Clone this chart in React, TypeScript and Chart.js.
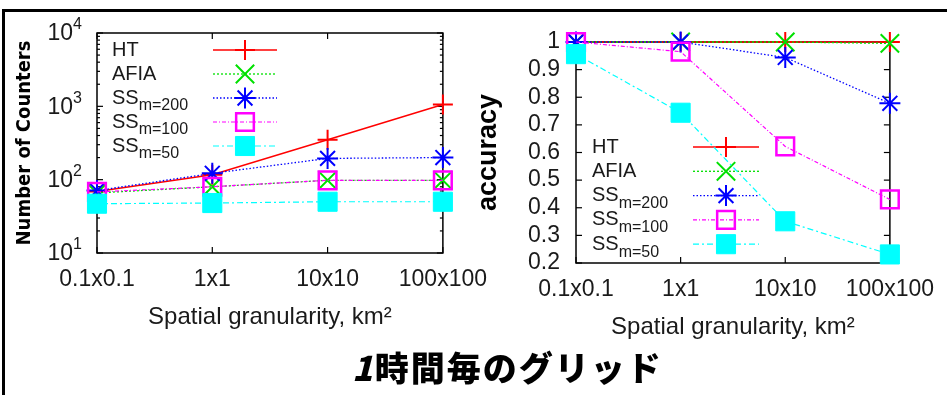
import React, { useEffect, useRef } from "react";
import { Chart, registerables } from "chart.js";
import { drawPoint } from "chart.js/helpers";

Chart.register(...registerables);

// ---------- data ----------
const granularity = ["0.1x0.1", "1x1", "10x10", "100x100"];
const seriesNames = ["HT", "AFIA", "SS", "SS", "SS"];
const seriesSubs = ["", "", "m=200", "m=100", "m=50"];

const countersHT = [69, 117, 350, 1060];
const countersAFIA = [66, 80, 98, 98];
const countersSS200 = [71, 122, 195, 200];
const countersSS100 = [68, 80, 98, 98];
const countersSS50 = [47, 48, 50, 50];

const accuracyHT = [1, 1, 1, 1];
const accuracyAFIA = [1, 1, 1, 0.995];
const accuracySS200 = [1, 1, 0.944, 0.778];
const accuracySS100 = [1, 0.965, 0.622, 0.43];
const accuracySS50 = [0.956, 0.744, 0.351, 0.231];

const countTicks = [10, 100, 1000, 10000];
const logBase = "10";
const accuracyTicks = [0.2, 0.3, 0.4, 0.5, 0.6, 0.7, 0.8, 0.9, 1];

const xTitle = "Spatial granularity, km\u00B2";
const leftYTitle = "Number of Counters";
const rightYTitle = "accuracy";

// ---------- styles ----------
const SANS = '"Liberation Sans", Arial, Helvetica, sans-serif';
const TEXT = "#1a1a1a";
const STYLES = [
  { color: "#ff0000", dash: [] as number[], width: 1.5, ps: "cross", r: 10, pbw: 2, bg: "rgba(0,0,0,0)" },
  { color: "#00e000", dash: [2, 2], width: 1.3, ps: "crossRot", r: 13, pbw: 2, bg: "rgba(0,0,0,0)" },
  { color: "#0000ff", dash: [1.5, 2], width: 1.3, ps: "star", r: 10.5, pbw: 2, bg: "rgba(0,0,0,0)" },
  { color: "#ff00ff", dash: [4, 2, 1, 2], width: 1.2, ps: "rect", r: 12.5, pbw: 2.5, bg: "rgba(0,0,0,0)" },
  { color: "#00ffff", dash: [6, 3, 2, 3], width: 1.2, ps: "rect", r: 13.5, pbw: 1, bg: "#00ffff" },
];

function makeDatasets(series: number[][]) {
  return series.map((vals, i) => {
    const s = STYLES[i];
    return {
      label: seriesNames[i],
      sub: seriesSubs[i],
      data: vals,
      borderColor: s.color,
      backgroundColor: s.bg,
      borderWidth: s.width,
      borderDash: s.dash,
      pointStyle: s.ps,
      pointRadius: s.r,
      pointHoverRadius: s.r,
      pointBorderWidth: s.pbw,
      pointBorderColor: s.color,
      pointBackgroundColor: s.bg,
      tension: 0,
      fill: false,
      clip: false,
      order: 5 - i,
    };
  });
}

// ---------- plugins ----------
const gnuFrame = {
  id: "gnuFrame",
  beforeDatasetsDraw(chart: any, _a: any, opts: any) {
    const { ctx, chartArea } = chart;
    const { left, right, top, bottom } = chartArea;
    const xs = chart.scales.x;
    const ys = chart.scales.y;
    ctx.save();
    ctx.strokeStyle = "#000";
    ctx.lineWidth = 1.5;
    ctx.strokeRect(left, top, right - left, bottom - top);
    ctx.lineWidth = 1.2;
    const line = (x0: number, y0: number, x1: number, y1: number) => {
      ctx.beginPath();
      ctx.moveTo(x0, y0);
      ctx.lineTo(x1, y1);
      ctx.stroke();
    };
    xs.ticks.forEach((_t: any, i: number) => {
      const px = xs.getPixelForTick(i);
      line(px, bottom, px, bottom - 6);
      line(px, top, px, top + 6);
    });
    ys.ticks.forEach((t: any) => {
      const py = ys.getPixelForValue(t.value);
      line(left, py, left + 6, py);
      line(right, py, right - 6, py);
    });
    (opts.minor || []).forEach((v: number) => {
      const py = ys.getPixelForValue(v);
      line(left, py, left + 3, py);
      line(right, py, right - 3, py);
    });
    ctx.restore();
  },
  afterDraw(chart: any, _a: any, opts: any) {
    if (!opts.expLabels) return;
    const { ctx, chartArea } = chart;
    const ys = chart.scales.y;
    const xr = chartArea.left - 15;
    ctx.save();
    ctx.fillStyle = TEXT;
    ctx.textAlign = "left";
    ctx.textBaseline = "middle";
    countTicks.forEach((v) => {
      const py = ys.getPixelForValue(v);
      const e = String(Math.round(Math.log10(v)));
      ctx.font = `16px ${SANS}`;
      const ew = ctx.measureText(e).width;
      ctx.font = `23px ${SANS}`;
      const bw = ctx.measureText(logBase).width;
      ctx.fillText(logBase, xr - ew - bw, py + 1);
      ctx.font = `16px ${SANS}`;
      ctx.fillText(e, xr - ew, py - 8);
    });
    ctx.restore();
  },
};

const subLegend = {
  id: "subLegend",
  beforeDatasetsDraw(chart: any, _a: any, opts: any) {
    const ctx = chart.ctx;
    chart.data.datasets.forEach((ds: any, i: number) => {
      const cy = opts.y + i * opts.step;
      ctx.save();
      ctx.fillStyle = TEXT;
      ctx.textAlign = "left";
      ctx.textBaseline = "middle";
      ctx.font = `20px ${SANS}`;
      ctx.fillText(ds.label, opts.x, cy);
      if (ds.sub) {
        const w = ctx.measureText(ds.label).width;
        ctx.font = `16px ${SANS}`;
        ctx.fillText(ds.sub, opts.x + w, cy + 8);
      }
      ctx.strokeStyle = ds.borderColor;
      ctx.lineWidth = ds.borderWidth;
      ctx.setLineDash(ds.borderDash || []);
      ctx.beginPath();
      ctx.moveTo(opts.x0, cy);
      ctx.lineTo(opts.x1, cy);
      ctx.stroke();
      ctx.setLineDash([]);
      ctx.fillStyle = ds.pointBackgroundColor;
      ctx.strokeStyle = ds.pointBorderColor;
      ctx.lineWidth = ds.pointBorderWidth;
      drawPoint(
        ctx,
        { pointStyle: ds.pointStyle, radius: ds.pointRadius, rotation: 0, borderWidth: ds.pointBorderWidth } as any,
        (opts.x0 + opts.x1) / 2,
        cy
      );
      ctx.restore();
    });
  },
};

const minorLog: number[] = [];
for (let e = 1; e <= 3; e++) for (let k = 2; k <= 9; k++) minorLog.push(k * Math.pow(10, e));

function xAxis(height: number, titlePad: number) {
  return {
    type: "category" as const,
    offset: false,
    grid: { display: false, drawTicks: false },
    border: { display: false },
    ticks: { font: { family: SANS, size: 23 }, color: TEXT, padding: 13, maxRotation: 0, autoSkip: false },
    title: {
      display: true,
      text: xTitle,
      font: { family: SANS, size: 24 },
      color: TEXT,
      padding: { top: 0, bottom: titlePad },
    },
    afterFit: (s: any) => {
      s.height = height;
    },
  };
}

export default function App() {
  const leftRef = useRef<HTMLCanvasElement>(null);
  const rightRef = useRef<HTMLCanvasElement>(null);

  useEffect(() => {
    const left = new Chart(leftRef.current as HTMLCanvasElement, {
      type: "line",
      data: {
        labels: granularity,
        datasets: makeDatasets([countersHT, countersAFIA, countersSS200, countersSS100, countersSS50]) as any,
      },
      options: {
        responsive: false,
        animation: false,
        devicePixelRatio: 1,
        events: [],
        layout: { padding: { top: 33, right: 57, left: 0, bottom: 0 } },
        plugins: {
          legend: { display: false },
          tooltip: { enabled: false },
          gnuFrame: { minor: minorLog, expLabels: true },
          subLegend: { x: 112, y: 50, step: 24, x0: 213, x1: 277 },
        } as any,
        scales: {
          x: xAxis(92, 13.6),
          y: {
            type: "logarithmic",
            min: 10,
            max: 10000,
            afterBuildTicks: (s: any) => {
              s.ticks = countTicks.map((v) => ({ value: v }));
            },
            ticks: { display: false, autoSkip: false },
            grid: { display: false, drawTicks: false },
            border: { display: false },
            title: {
              display: true,
              text: leftYTitle,
              font: { family: '"DejaVu Sans Condensed", "DejaVu Sans", sans-serif', size: 20, weight: "bold" },
              color: "#000",
              padding: { top: 13, bottom: 0 },
            },
            afterFit: (s: any) => {
              s.width = 97;
            },
          },
        } as any,
      },
      plugins: [gnuFrame, subLegend],
    });

    const right = new Chart(rightRef.current as HTMLCanvasElement, {
      type: "line",
      data: {
        labels: granularity,
        datasets: makeDatasets([accuracyHT, accuracyAFIA, accuracySS200, accuracySS100, accuracySS50]) as any,
      },
      options: {
        responsive: false,
        animation: false,
        devicePixelRatio: 1,
        events: [],
        layout: { padding: { top: 42, right: 50, left: 0, bottom: 0 } },
        plugins: {
          legend: { display: false },
          tooltip: { enabled: false },
          gnuFrame: { minor: [], expLabels: false },
          subLegend: { x: 122, y: 147, step: 24.3, x0: 223, x1: 289 },
        } as any,
        scales: {
          x: xAxis(82, 3.6),
          y: {
            type: "linear",
            min: 0.2,
            max: 1,
            afterBuildTicks: (s: any) => {
              s.ticks = accuracyTicks.map((v) => ({ value: v }));
            },
            ticks: {
              font: { family: SANS, size: 23 },
              color: TEXT,
              padding: 16,
              autoSkip: false,
              callback: (v: any) => String(v),
            },
            grid: { display: false, drawTicks: false },
            border: { display: false },
            title: {
              display: true,
              text: rightYTitle,
              font: { family: SANS, size: 27, weight: "bold" },
              color: "#000",
              padding: { top: 2, bottom: 0 },
            },
            afterFit: (s: any) => {
              s.width = 106;
            },
          },
        } as any,
      },
      plugins: [gnuFrame, subLegend],
    });

    return () => {
      left.destroy();
      right.destroy();
    };
  }, []);

  return (
    <div
      style={{
        position: "absolute",
        left: 0,
        top: 0,
        width: 947,
        height: 395,
        background: "#fff",
        overflow: "hidden",
      }}
    >
      <div
        style={{
          position: "absolute",
          left: 2,
          top: 9,
          right: -10,
          bottom: -10,
          borderTop: "3px solid #000",
          borderLeft: "3px solid #000",
        }}
      />
      <canvas ref={leftRef} width={500} height={345} style={{ position: "absolute", left: 0, top: 0 }} />
      <canvas ref={rightRef} width={477} height={345} style={{ position: "absolute", left: 470, top: 0 }} />
      <div
        style={{
          position: "absolute",
          left: 352,
          top: 350,
          fontFamily: '"Noto Sans CJK JP", sans-serif',
          fontWeight: 900,
          fontSize: 34,
          lineHeight: "34px",
          letterSpacing: 2,
          color: "#000",
          whiteSpace: "nowrap",
        }}
      >
        <span style={{ fontStyle: "italic" }}>1</span>時間毎のグリッド
      </div>
    </div>
  );
}
